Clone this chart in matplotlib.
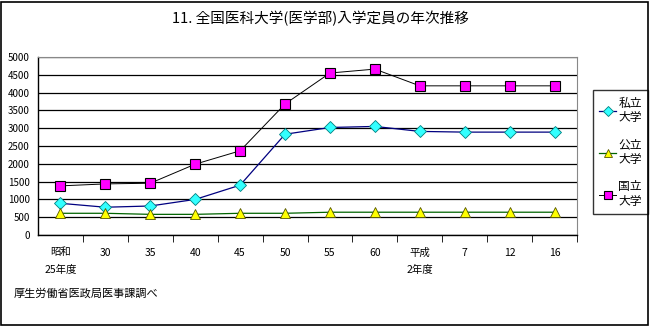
import matplotlib
matplotlib.use("Agg")
import matplotlib.pyplot as plt
from matplotlib.patches import Rectangle

plt.rcParams['font.family'] = ['Noto Sans CJK JP', 'DejaVu Sans']

# 年度 (categories)
years = ["昭和\n25年度", "30", "35", "40", "45", "50", "55", "60",
         "平成\n2年度", "7", "12", "16"]

# 入学定員
private = [890, 780, 815, 1000, 1400, 2830, 3020, 3050, 2910, 2890, 2890, 2890]
public = [610, 610, 580, 580, 610, 610, 640, 640, 640, 640, 640, 640]
national = [1380, 1435, 1455, 1990, 2365, 3680, 4550, 4660, 4190, 4190, 4190, 4190]

yticks = list(range(0, 5001, 500))

fig = plt.figure(figsize=(6.52, 3.26), dpi=100)
ax = fig.add_axes([38 / 652, 1 - 235 / 326, 539 / 652, 178 / 326])

x = list(range(len(years)))
ax.plot(x, private, color="#000080", lw=0.9, marker="D", ms=6.5,
        mfc="#33ffff", mec="#008080", mew=0.6, label="私立\n大学", zorder=3)
ax.plot(x, public, color="#006400", lw=0.9, marker="^", ms=7,
        mfc="#ffff00", mec="#555500", mew=0.6, label="公立\n大学", zorder=3)
ax.plot(x, national, color="black", lw=0.7, marker="s", ms=7.5,
        mfc="#ff00ff", mec="black", mew=0.8, label="国立\n大学", zorder=3)

ax.set_xlim(-0.5, len(years) - 0.5)
ax.set_ylim(0, 5000)
ax.set_yticks(yticks)
ax.yaxis.grid(True, color="black", lw=0.9)
ax.set_axisbelow(True)
ax.tick_params(axis="y", length=0, labelsize=7, pad=6)

ax.set_xticks(x)
ax.set_xticklabels(years, fontsize=7.5, linespacing=1.9, va="top")
ax.tick_params(axis="x", which="major", length=0, pad=9)
ax.set_xticks([i + 0.5 for i in range(len(years))], minor=True)
ax.tick_params(axis="x", which="minor", length=5, direction="out", color="black")

for side in ["top", "right"]:
    ax.spines[side].set_color("#888888")
for side in ["left", "bottom"]:
    ax.spines[side].set_color("black")
    ax.spines[side].set_linewidth(1.0)

fig.text(320 / 652, 1 - 18 / 326, "11. 全国医科大学(医学部)入学定員の年次推移",
         ha="center", va="center", fontsize=10.5)
fig.text(14 / 652, 1 - 293 / 326, "厚生労働省医政局医事課調べ",
         ha="left", va="center", fontsize=8)

leg = ax.legend(loc="upper left", bbox_to_anchor=(593 / 652, 1 - 90 / 326),
                bbox_transform=fig.transFigure, frameon=True, fancybox=False,
                edgecolor="black", fontsize=8.5, handlelength=1.4,
                handletextpad=0.2, labelspacing=1.15, borderpad=0.55,
                borderaxespad=0, markerscale=0.85)
leg.get_frame().set_linewidth(1.0)

fig.patches.append(Rectangle((1 / 652, 1 / 326), 647 / 652, 323 / 326,
                             transform=fig.transFigure, fill=False,
                             edgecolor="black", lw=1.2))

fig.savefig("out.png", dpi=100)
